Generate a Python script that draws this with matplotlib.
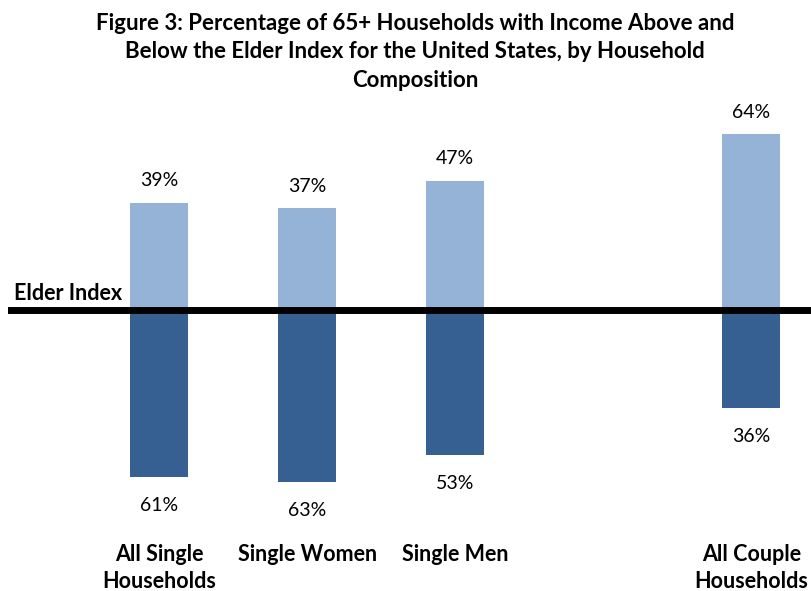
import matplotlib.pyplot as plt

plt.rcParams['font.family'] = ['Lato', 'DejaVu Sans']

categories = ['All Single\nHouseholds', 'Single Women', 'Single Men', 'All Couple\nHouseholds']
positions = [0, 1, 2, 4]
above = [39, 37, 47, 64]
below = [61, 63, 53, 36]

title_lines = ['Figure 3: Percentage of 65+ Households with Income Above and',
               'Below the Elder Index for the United States, by Household',
               'Composition']

light = '#95B3D7'
dark = '#366092'

fig = plt.figure(figsize=(8.12, 5.91), dpi=100)
ax = fig.add_axes([8 / 812, 0, 1 - 8 / 812, 1])

ax.bar(positions, above, width=0.39, color=light)
ax.bar(positions, [-v for v in below], width=0.39, color=dark)
ax.axhline(0, color='black', linewidth=5)

for x, a, b in zip(positions, above, below):
    ax.text(x, a + 8.0, f'{a}%', ha='center', va='center', fontsize=14)
    ax.text(x, -b - 10.4, f'{b}%', ha='center', va='center', fontsize=14)

# category labels, one text per line
for x, c in zip(positions, categories):
    for i, line in enumerate(c.split('\n')):
        ax.text(x, -89.2 - 9.9 * i, line, ha='center', va='center',
                fontsize=15.5, fontweight='bold')

ax.text(-0.98, 5.8, 'Elder Index', ha='left', va='center', fontsize=15.5, fontweight='bold')

ax.set_xlim(-1.02, 4.41)
ax.set_ylim(-102.7, 113.0)
ax.axis('off')

for i, line in enumerate(title_lines):
    fig.text(0.511, 1 - (23.5 + 28.5 * i) / 591, line,
             ha='center', va='center', fontsize=16, fontweight='bold')

fig.savefig('out.png', dpi=100)
